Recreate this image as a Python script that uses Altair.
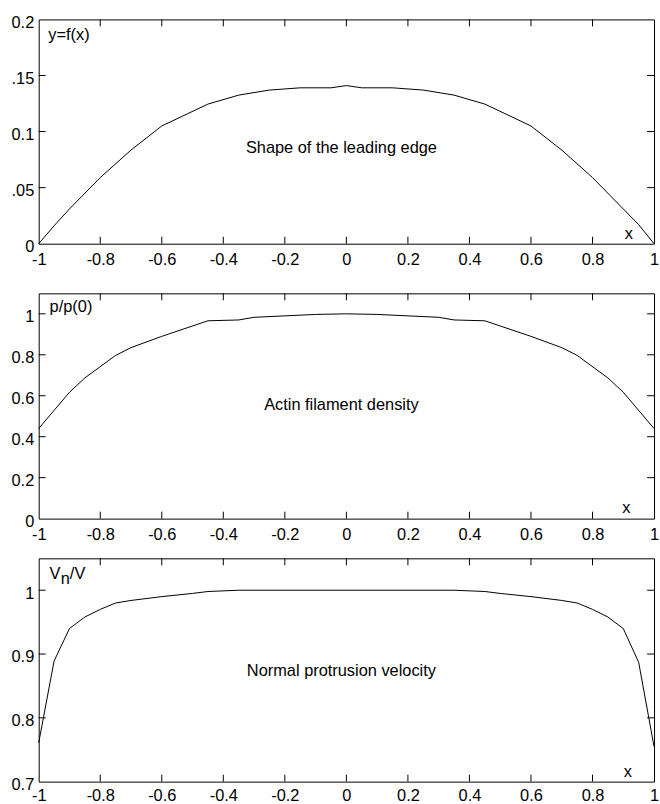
import altair as alt
import pandas as pd

# ---------------- data ----------------
x_shape = [-1, -0.95, -0.9, -0.8, -0.7, -0.6, -0.45, -0.35, -0.25, -0.15, -0.05, 0,
           0.05, 0.15, 0.25, 0.35, 0.45, 0.6, 0.7, 0.8, 0.9, 0.95, 1]
y_shape = [0, 0.016, 0.031, 0.059, 0.0835, 0.105, 0.1245, 0.1325, 0.137, 0.139, 0.139, 0.141,
           0.139, 0.139, 0.137, 0.1325, 0.1245, 0.105, 0.0835, 0.059, 0.031, 0.017, 0]

x_density = [-1, -0.9, -0.85, -0.75, -0.7, -0.6, -0.45, -0.35, -0.3, -0.2, -0.1, 0,
             0.1, 0.2, 0.3, 0.35, 0.45, 0.6, 0.7, 0.75, 0.85, 0.9, 1]
y_density = [0.44, 0.617, 0.687, 0.797, 0.835, 0.89, 0.966, 0.97, 0.983, 0.99, 0.997, 1.0,
             0.997, 0.99, 0.983, 0.97, 0.966, 0.89, 0.835, 0.797, 0.687, 0.617, 0.44]

x_velocity = [-1, -0.95, -0.9, -0.85, -0.8, -0.75, -0.7, -0.6, -0.5, -0.45, -0.35,
              0.35, 0.45, 0.5, 0.6, 0.7, 0.75, 0.8, 0.85, 0.9, 0.95, 1]
y_velocity = [0.761, 0.889, 0.94, 0.958, 0.97, 0.98, 0.984, 0.99, 0.995, 0.998, 1.0,
              1.0, 0.998, 0.995, 0.99, 0.984, 0.98, 0.97, 0.958, 0.94, 0.887, 0.755]

x_ticks = [-1, -0.8, -0.6, -0.4, -0.2, 0, 0.2, 0.4, 0.6, 0.8, 1]
x_tick_labels = ["-1", "-0.8", "-0.6", "-0.4", "-0.2", "0", "0.2", "0.4", "0.6", "0.8", "1"]

y1_ticks = [0, 0.05, 0.1, 0.15, 0.2]
y1_tick_labels = ["0", ".05", "0.1", ".15", "0.2"]
y2_ticks = [0, 0.2, 0.4, 0.6, 0.8, 1]
y2_tick_labels = ["0", "0.2", "0.4", "0.6", "0.8", "1"]
y3_ticks = [0.7, 0.8, 0.9, 1]
y3_tick_labels = ["0.7", "0.8", "0.9", "1"]

y1_domain = [0, 0.2]
y2_domain = [0, 1.1]
y3_domain = [0.7, 1.05]

titles = ["Shape of the leading edge", "Actin filament density", "Normal protrusion velocity"]
y_names = ["y=f(x)", "p/p(0)"]
v_name = ["V", "n", "/V"]
x_name = "x"

# ---------------- style ----------------
FONT = "Liberation Sans"
FS = 16.5
W = 620
TICK = 7


def label_expr(vals, labels):
    expr = "''"
    for v, l in reversed(list(zip(vals, labels))):
        expr = f"abs(datum.value - ({v})) < 1e-9 ? '{l}' : ({expr})"
    return expr


def text_layer(txt, px, py, align="left", size=FS):
    return alt.Chart(pd.DataFrame({"t": [txt]})).mark_text(
        align=align, baseline="alphabetic", font=FONT, fontSize=size, color="black"
    ).encode(text="t:N", x=alt.value(px), y=alt.value(py))


def panel(xs, ys, ydom, yticks, ylabels, H, texts, xpad=8):
    xscale = alt.Scale(domain=[-1, 1], nice=False, zero=False)
    yscale = alt.Scale(domain=ydom, nice=False, zero=False)
    xaxis = alt.Axis(values=x_ticks, labelExpr=label_expr(x_ticks, x_tick_labels),
                     title=None, grid=False, ticks=False, domain=False,
                     labelFont=FONT, labelFontSize=FS, labelColor="black",
                     labelPadding=xpad, labelFlush=False, labelOverlap=False)
    yaxis = alt.Axis(values=yticks, labelExpr=label_expr(yticks, ylabels),
                     title=None, grid=False, ticks=False, domain=False,
                     labelFont=FONT, labelFontSize=FS, labelColor="black",
                     labelPadding=5, labelOffset=3, labelFlush=False,
                     labelBaseline="middle", labelOverlap=False)
    df = pd.DataFrame({"x": xs, "y": ys})
    line = alt.Chart(df).mark_line(color="black", strokeWidth=1).encode(
        x=alt.X("x:Q", scale=xscale, axis=xaxis),
        y=alt.Y("y:Q", scale=yscale, axis=yaxis),
    )
    xin = pd.DataFrame({"x": x_ticks[1:-1]})
    yin = pd.DataFrame({"y": [v for v in yticks if ydom[0] < v < ydom[1]]})
    bottom = alt.Chart(xin).mark_rule(color="black", strokeWidth=1).encode(
        x=alt.X("x:Q", scale=xscale, axis=xaxis), y=alt.value(H), y2=alt.value(H - TICK))
    top = alt.Chart(xin).mark_rule(color="black", strokeWidth=1).encode(
        x=alt.X("x:Q", scale=xscale, axis=xaxis), y=alt.value(0), y2=alt.value(TICK))
    left = alt.Chart(yin).mark_rule(color="black", strokeWidth=1).encode(
        y=alt.Y("y:Q", scale=yscale, axis=yaxis), x=alt.value(0), x2=alt.value(TICK))
    right = alt.Chart(yin).mark_rule(color="black", strokeWidth=1).encode(
        y=alt.Y("y:Q", scale=yscale, axis=yaxis), x=alt.value(W), x2=alt.value(W - TICK))
    layers = [line, bottom, top, left, right] + texts
    return alt.layer(*layers).properties(width=W, height=H)


H1, H2, H3 = 226, 227, 225

p1 = panel(x_shape, y_shape, y1_domain, y1_ticks, y1_tick_labels, H1, [
    text_layer(y_names[0], 9.7, 21),
    text_layer(titles[0], 305, 134.5, align="center"),
    text_layer(x_name, 594.7, 221, align="center"),
])
p2 = panel(x_density, y_density, y2_domain, y2_ticks, y2_tick_labels, H2, [
    text_layer(y_names[1], 11, 18.4),
    text_layer(titles[1], 305, 117.6, align="center"),
    text_layer(x_name, 592, 221.3, align="center"),
])
p3 = panel(x_velocity, y_velocity, y3_domain, y3_ticks, y3_tick_labels, H3, [
    text_layer(v_name[0], 11, 20.7),
    text_layer(v_name[1], 22.1, 25.7),
    text_layer(v_name[2], 31.4, 20.7),
    text_layer(titles[2], 305, 119, align="center"),
    text_layer(x_name, 593.7, 220.7, align="center"),
], xpad=6.5)

chart = alt.vconcat(
    alt.vconcat(p1, p2, spacing=24),
    p3,
    spacing=14,
).properties(
    padding={"left": 10, "top": 10.5, "right": 0, "bottom": 0}
).configure_view(
    stroke="black", strokeWidth=1
)

chart.save("out.html", embed_options={"renderer": "svg", "actions": False})
